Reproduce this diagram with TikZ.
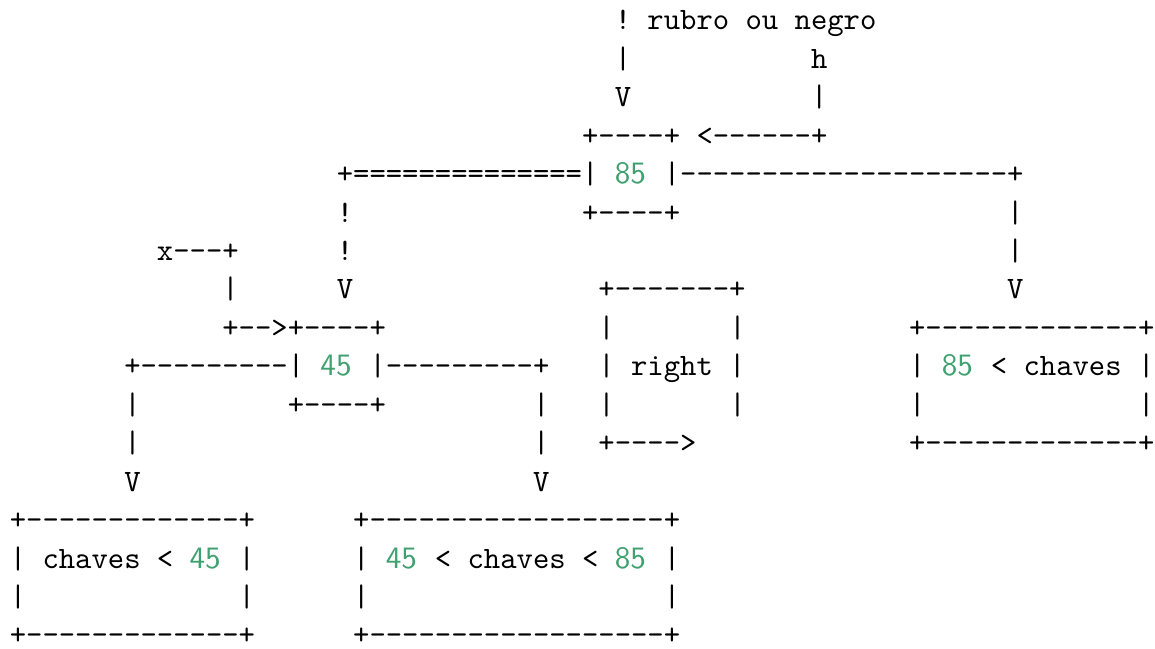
\documentclass[tikz,border=0pt]{standalone}
\usepackage{xcolor}

\definecolor{numgreen}{HTML}{40A070}

\begin{document}
\frenchspacing
\begin{tikzpicture}[x=5.25pt,y=-12.34pt,
	tt/.style={anchor=base west,inner sep=0pt,outer sep=0pt,font=\fontsize{10}{12}\ttfamily},
	num/.style={tt,font=\fontsize{10}{12}\sffamily,text=numgreen}]

	\useasboundingbox (-0.6,0.22) rectangle (70.04,17.1);

	% top: color hint and the h pointer
	\node[tt] (cor)    at (37,1) {! rubro ou negro};
	\node[tt] (corA)   at (37,2) {|};
	\node[tt] (hname)  at (49,2) {h};
	\node[tt] (corV)   at (37,3) {V};
	\node[tt] (hbar)   at (49,3) {|};
	\node[tt] (rtop)   at (35,4) {+----+};
	\node[tt] (harrow) at (42,4) {<------+};

	% root 85 with its two links
	\node[tt]  (lnkL)  at (20,5) {+==============|};
	\node[num] (root)  at (37,5) {85};
	\node[tt]  (lnkR)  at (40,5) {|--------------------+};
	\node[tt]  (lnkL1) at (20,6) {!};
	\node[tt]  (rbot)  at (35,6) {+----+};
	\node[tt]  (lnkR1) at (61,6) {|};
	\node[tt]  (xname) at (9,7)  {x---+};
	\node[tt]  (lnkL2) at (20,7) {!};
	\node[tt]  (lnkR2) at (61,7) {|};
	\node[tt]  (xbar)  at (13,8) {|};
	\node[tt]  (lnkLV) at (20,8) {V};
	\node[tt]  (rgtT)  at (36,8) {+-------+};
	\node[tt]  (lnkRV) at (61,8) {V};

	% node 45, the right field and the subtree > 85
	\node[tt]  (xarrow) at (13,9)  {+-->+----+};
	\node[tt]  (rgtA)   at (36,9)  {|};
	\node[tt]  (rgtB)   at (44,9)  {|};
	\node[tt]  (gtT)    at (55,9)  {+-------------+};
	\node[tt]  (midL)   at (7,10)  {+---------|};
	\node[num] (mid)    at (19,10) {45};
	\node[tt]  (midR)   at (22,10) {|---------+};
	\node[tt]  (rgtC)   at (36,10) {| right |};
	\node[tt]  (gtA)    at (55,10) {|};
	\node[num] (gtN)    at (57,10) {85};
	\node[tt]  (gtB)    at (60,10) {< chaves |};
	\node[tt]  (midL1)  at (7,11)  {|};
	\node[tt]  (midbot) at (17,11) {+----+};
	\node[tt]  (midR1)  at (32,11) {|};
	\node[tt]  (rgtD)   at (36,11) {|};
	\node[tt]  (rgtE)   at (44,11) {|};
	\node[tt]  (gtC)    at (55,11) {|};
	\node[tt]  (gtD)    at (69,11) {|};
	\node[tt]  (midL2)  at (7,12)  {|};
	\node[tt]  (midR2)  at (32,12) {|};
	\node[tt]  (rgtArr) at (36,12) {+---->};
	\node[tt]  (gtBot)  at (55,12) {+-------------+};
	\node[tt]  (midLV)  at (7,13)  {V};
	\node[tt]  (midRV)  at (32,13) {V};

	% bottom subtrees
	\node[tt]  (ltT)   at (0,14)  {+-------------+};
	\node[tt]  (btT)   at (21,14) {+------------------+};
	\node[tt]  (ltA)   at (0,15)  {| chaves <};
	\node[num] (ltN)   at (11,15) {45};
	\node[tt]  (ltB)   at (14,15) {|};
	\node[tt]  (btA)   at (21,15) {|};
	\node[num] (btN1)  at (23,15) {45};
	\node[tt]  (btB)   at (26,15) {< chaves <};
	\node[num] (btN2)  at (37,15) {85};
	\node[tt]  (btC)   at (40,15) {|};
	\node[tt]  (ltC)   at (0,16)  {|};
	\node[tt]  (ltD)   at (14,16) {|};
	\node[tt]  (btD)   at (21,16) {|};
	\node[tt]  (btE)   at (40,16) {|};
	\node[tt]  (ltBot) at (0,17)  {+-------------+};
	\node[tt]  (btBot) at (21,17) {+------------------+};

\end{tikzpicture}
\end{document}
